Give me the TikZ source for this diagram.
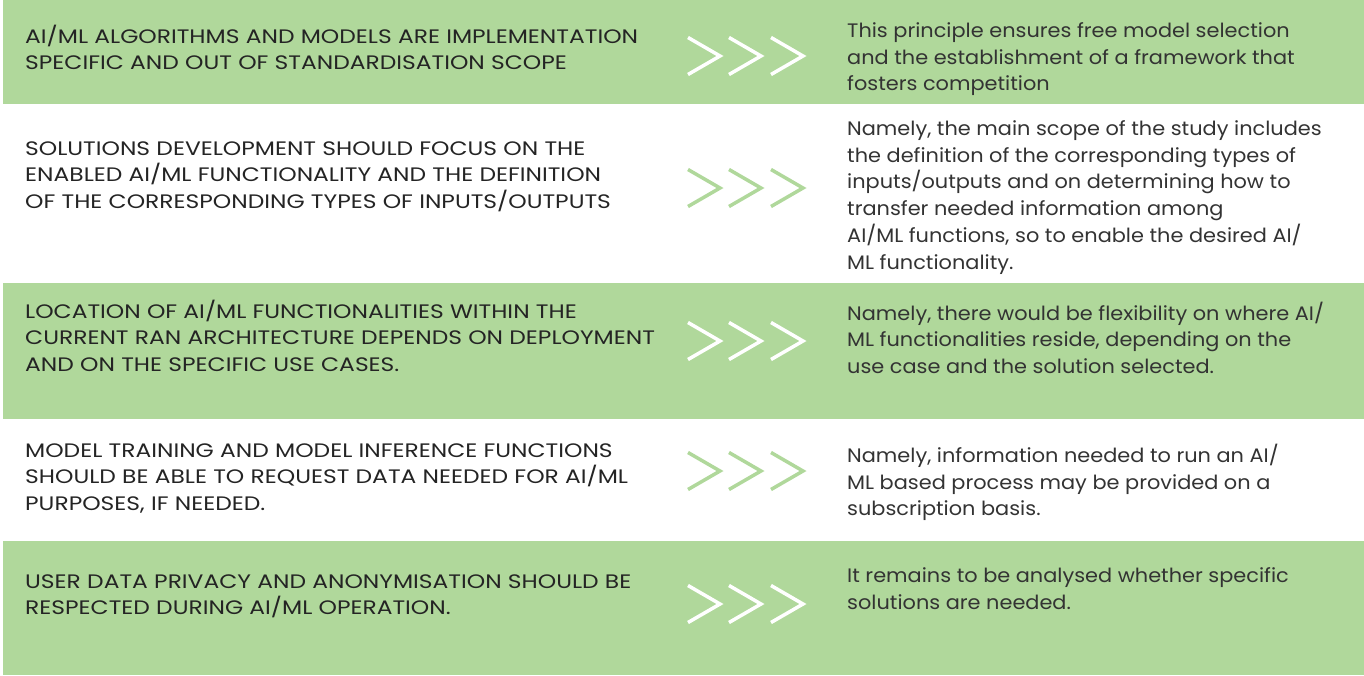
\documentclass[tikz,border=0pt]{standalone}
\usepackage{fontspec}
\setmainfont{Poppins}
\newfontfamily\lfont[FakeStretch=1.2]{Poppins}
\newfontfamily\rfont[FakeStretch=1.07]{Poppins}
\definecolor{band}{HTML}{B0D89B}
\definecolor{ink}{HTML}{242424}
\definecolor{inkr}{HTML}{333333}
\newcommand\chevrow[2]{%
  \foreach \dx in {0,41,83}{%
    \draw[chev,#2] (688+\dx,#1-18.5) -- (720+\dx,#1) -- (688+\dx,#1+18.5);}}
\begin{document}
\begin{tikzpicture}[x=1pt,y=-1pt,
  lt/.style={anchor=base west, inner sep=0pt, align=left,
    font=\lfont\fontsize{19.5}{26.7}\selectfont, text=ink},
  rt/.style={anchor=base west, inner sep=0pt, align=left,
    font=\rfont\fontsize{19.5}{26.7}\selectfont, text=inkr},
  chev/.style={line width=3.5pt, miter limit=10}]
\useasboundingbox (0,0) rectangle (1364,675);
\fill[band] (3,0) rectangle (1364,104);
\fill[band] (3,283) rectangle (1364,419);
\fill[band] (3,541) rectangle (1364,675);

% anchors are the baselines of the last lines
\node[lt] (l1) at (25,69.7) {AI/ML ALGORITHMS AND MODELS ARE IMPLEMENTATION\\SPECIFIC AND OUT OF STANDARDISATION SCOPE};
\node[lt] (l2) at (25,208.4) {SOLUTIONS DEVELOPMENT SHOULD FOCUS ON THE\\ENABLED AI/ML FUNCTIONALITY AND THE DEFINITION\\OF THE CORRESPONDING TYPES OF INPUTS/OUTPUTS};
\node[lt] (l3) at (25,371.4) {LOCATION OF AI/ML FUNCTIONALITIES WITHIN THE\\CURRENT RAN ARCHITECTURE DEPENDS ON DEPLOYMENT\\AND ON THE SPECIFIC USE CASES.};
\node[lt] (l4) at (25,510.4) {MODEL TRAINING AND MODEL INFERENCE FUNCTIONS\\SHOULD BE ABLE TO REQUEST DATA NEEDED FOR AI/ML\\PURPOSES, IF NEEDED.};
\node[lt] (l5) at (25,614.7) {USER DATA PRIVACY AND ANONYMISATION SHOULD BE\\RESPECTED DURING AI/ML OPERATION.};

\chevrow{56}{white}
\chevrow{188}{band}
\chevrow{341}{white}
\chevrow{471}{band}
\chevrow{604}{white}

\node[rt] (r1) at (847,90.9) {This principle ensures free model selection\\and the establishment of a framework that\\fosters competition};
\node[rt] (r2) at (847,269) {Namely, the main scope of the study includes\\the definition of the corresponding types of\\inputs/outputs and on determining how to\\transfer needed information among\\AI/ML functions, so to enable the desired AI/\\ML functionality.};
\node[rt] (r3) at (847,373.4) {Namely, there would be flexibility on where AI/\\ML functionalities reside, depending on the\\use case and the solution selected.};
\node[rt] (r4) at (847,515.9) {Namely, information needed to run an AI/\\ML based process may be provided on a\\subscription basis.};
\node[rt] (r5) at (847,609.2) {It remains to be analysed whether specific\\solutions are needed.};
\end{tikzpicture}
\end{document}
